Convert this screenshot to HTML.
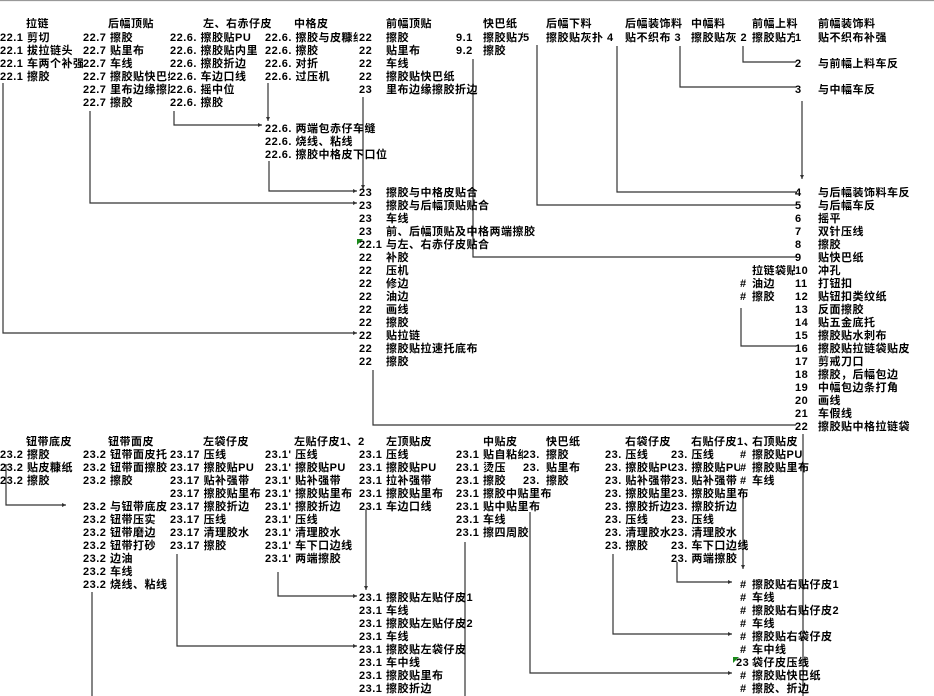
<!DOCTYPE html>
<html><head><meta charset="utf-8">
<style>
body{margin:0;width:934px;height:696px;background:#fff;position:relative;overflow:hidden}
.t{position:absolute;font:bold 11px "Liberation Sans","Noto Sans CJK SC",sans-serif;line-height:13px;white-space:nowrap;color:#000;letter-spacing:0.5px;overflow:hidden}
svg{position:absolute;left:0;top:0}
</style></head><body>
<svg width="934" height="696">
<defs><marker id="a" markerWidth="5" markerHeight="5" refX="4" refY="2.5" orient="auto" markerUnits="userSpaceOnUse"><path d="M0,0.5 L4,2.5 L0,4.5z" fill="#333"/></marker></defs>
<g stroke="#333" stroke-width="1.2" fill="none">
<line x1="0" y1="0.5" x2="934" y2="0.5" stroke="#999"/>
<polyline points="3,83 3,333 357,333" marker-end="url(#a)"/>
<polyline points="90,111 90,203 357,203" marker-end="url(#a)"/>
<polyline points="174,111 174,125 262,125" marker-end="url(#a)"/>
<line x1="268" y1="83" x2="268" y2="121" marker-end="url(#a)"/>
<polyline points="269,161 269,191 357,191" marker-end="url(#a)"/>
<line x1="363" y1="97" x2="363" y2="189" marker-end="url(#a)"/>
<polyline points="473,59 473,257 796,257"/>
<polyline points="537,45 537,205 796,205"/>
<polyline points="617,46 617,192 796,192"/>
<polyline points="680,46 680,87 796,87"/>
<polyline points="743,46 743,62 796,62"/>
<line x1="802" y1="101" x2="802" y2="179" marker-end="url(#a)"/>
<polyline points="741,308 741,346 796,346"/>
<polyline points="373,370 373,425 796,425"/>
<line x1="803" y1="434" x2="803" y2="696"/>
<polyline points="6,464 6,505 66,505" marker-end="url(#a)"/>
<line x1="92" y1="592" x2="92" y2="696"/>
<polyline points="177,554 177,646 357,646" marker-end="url(#a)"/>
<polyline points="278,572 278,596 357,596" marker-end="url(#a)"/>
<line x1="366" y1="509" x2="366" y2="590" marker-end="url(#a)"/>
<line x1="465" y1="542" x2="465" y2="696"/>
<polyline points="530,512 530,673 732,673" marker-end="url(#a)"/>
<polyline points="613,554 613,634 732,634" marker-end="url(#a)"/>
<polyline points="677,562 677,582 732,582" marker-end="url(#a)"/>
<line x1="743" y1="495" x2="743" y2="569" marker-end="url(#a)"/>
</g>
<polygon points="357,239 363,239 357,245" fill="#1a8a1a"/>
<polygon points="733,657 739,657 733,663" fill="#1a8a1a"/>
</svg>

<div class="t" style="left:26px;top:18px">拉链</div>
<div class="t" style="left:108px;top:18px">后幅顶贴</div>
<div class="t" style="left:203px;top:18px">左、右赤仔皮</div>
<div class="t" style="left:294px;top:18px">中格皮</div>
<div class="t" style="left:386px;top:18px">前幅顶贴</div>
<div class="t" style="left:483px;top:18px">快巴纸</div>
<div class="t" style="left:546px;top:18px">后幅下料</div>
<div class="t" style="left:625px;top:18px">后幅装饰料</div>
<div class="t" style="left:691px;top:18px">中幅料</div>
<div class="t" style="left:752px;top:18px">前幅上料</div>
<div class="t" style="left:818px;top:18px">前幅装饰料</div>

<div class="t" style="left:0;top:32px;width:83px">22.1 剪切<br>22.1 拔拉链头<br>22.1 车两个补强<br>22.1 擦胶</div>
<div class="t" style="left:83px;top:32px;width:87px">22.7 擦胶<br>22.7 贴里布<br>22.7 车线<br>22.7 擦胶贴快巴纸<br>22.7 里布边缘擦胶<br>22.7 擦胶</div>
<div class="t" style="left:170px;top:32px;width:95px">22.6. 擦胶贴PU<br>22.6. 擦胶贴内里<br>22.6. 擦胶折边<br>22.6. 车边口线<br>22.6. 摇中位<br>22.6. 擦胶</div>
<div class="t" style="left:265px;top:32px;width:93px">22.6. 擦胶与皮糠纸<br>22.6. 擦胶<br>22.6. 对折<br>22.6. 过压机</div>
<div class="t" style="left:265px;top:123px">22.6. 两端包赤仔车缝<br>22.6. 烧线、粘线<br>22.6. 擦胶中格皮下口位</div>
<div class="t" style="left:359px;top:32px">22<br>22<br>22<br>22<br>23</div>
<div class="t" style="left:386px;top:32px">擦胶<br>贴里布<br>车线<br>擦胶贴快巴纸<br>里布边缘擦胶折边</div>
<div class="t" style="left:456px;top:32px">9.1<br>9.2</div>
<div class="t" style="left:483px;top:32px;width:40px">擦胶贴方<br>擦胶</div>
<div class="t" style="left:523px;top:32px">5</div>
<div class="t" style="left:546px;top:32px">擦胶贴灰扑 4</div>
<div class="t" style="left:625px;top:32px">贴不织布 3</div>
<div class="t" style="left:691px;top:32px">擦胶贴灰 2</div>
<div class="t" style="left:752px;top:32px;width:43px">擦胶贴方</div>
<div class="t" style="left:795px;top:32px">1</div>
<div class="t" style="left:818px;top:32px">贴不织布补强</div>
<div class="t" style="left:795px;top:58px">2</div><div class="t" style="left:818px;top:58px">与前幅上料车反</div>
<div class="t" style="left:795px;top:84px">3</div><div class="t" style="left:818px;top:84px">与中幅车反</div>

<div class="t" style="left:359px;top:187px">23<br>23<br>23<br>23<br>22.1<br>22<br>22<br>22<br>22<br>22<br>22<br>22<br>22<br>22</div>
<div class="t" style="left:386px;top:187px">擦胶与中格皮贴合<br>擦胶与后幅顶贴贴合<br>车线<br>前、后幅顶贴及中格两端擦胶<br>与左、右赤仔皮贴合<br>补胶<br>压机<br>修边<br>油边<br>画线<br>擦胶<br>贴拉链<br>擦胶贴拉速托底布<br>擦胶</div>

<div class="t" style="left:795px;top:187px">4<br>5<br>6<br>7<br>8<br>9<br>10<br>11<br>12<br>13<br>14<br>15<br>16<br>17<br>18<br>19<br>20<br>21<br>22</div>
<div class="t" style="left:818px;top:187px">与后幅装饰料车反<br>与后幅车反<br>摇平<br>双针压线<br>擦胶<br>贴快巴纸<br>冲孔<br>打钮扣<br>贴钮扣类纹纸<br>反面擦胶<br>贴五金底托<br>擦胶贴水刺布<br>擦胶贴拉链袋贴皮<br>剪戒刀口<br>擦胶，后幅包边<br>中幅包边条打角<br>画线<br>车假线<br>擦胶贴中格拉链袋</div>
<div class="t" style="left:752px;top:265px;width:43px">拉链袋贴</div>
<div class="t" style="left:740px;top:278px">#<br>#</div>
<div class="t" style="left:752px;top:278px">油边<br>擦胶</div>

<div class="t" style="left:26px;top:436px">钮带底皮</div>
<div class="t" style="left:108px;top:436px">钮带面皮</div>
<div class="t" style="left:203px;top:436px">左袋仔皮</div>
<div class="t" style="left:294px;top:436px">左贴仔皮1、2</div>
<div class="t" style="left:386px;top:436px">左顶贴皮</div>
<div class="t" style="left:483px;top:436px">中贴皮</div>
<div class="t" style="left:546px;top:436px">快巴纸</div>
<div class="t" style="left:625px;top:436px">右袋仔皮</div>
<div class="t" style="left:691px;top:436px">右贴仔皮1、</div>
<div class="t" style="left:752px;top:436px">右顶贴皮</div>

<div class="t" style="left:0;top:449px;width:83px">23.2 擦胶<br>23.2 贴皮糠纸<br>23.2 擦胶</div>
<div class="t" style="left:83px;top:449px;width:87px">23.2 钮带面皮托<br>23.2 钮带面擦胶<br>23.2 擦胶<br><br>23.2 与钮带底皮<br>23.2 钮带压实<br>23.2 钮带磨边<br>23.2 钮带打砂<br>23.2 边油<br>23.2 车线<br>23.2 烧线、粘线</div>
<div class="t" style="left:170px;top:449px;width:95px">23.17 压线<br>23.17 擦胶贴PU<br>23.17 贴补强带<br>23.17 擦胶贴里布<br>23.17 擦胶折边<br>23.17 压线<br>23.17 清理胶水<br>23.17 擦胶</div>
<div class="t" style="left:265px;top:449px;width:94px">23.1' 压线<br>23.1' 擦胶贴PU<br>23.1' 贴补强带<br>23.1' 擦胶贴里布<br>23.1' 擦胶折边<br>23.1' 压线<br>23.1' 清理胶水<br>23.1' 车下口边线<br>23.1' 两端擦胶</div>
<div class="t" style="left:359px;top:449px">23.1 压线<br>23.1 擦胶贴PU<br>23.1 拉补强带<br>23.1 擦胶贴里布<br>23.1 车边口线</div>
<div class="t" style="left:359px;top:592px">23.1 擦胶贴左贴仔皮1<br>23.1 车线<br>23.1 擦胶贴左贴仔皮2<br>23.1 车线<br>23.1 擦胶贴左袋仔皮<br>23.1 车中线<br>23.1 擦胶贴里布<br>23.1 擦胶折边</div>
<div class="t" style="left:456px;top:449px;width:67px">23.1 贴自粘纸<br>23.1 烫压<br>23.1 擦胶</div>
<div class="t" style="left:456px;top:488px">23.1 擦胶中贴里布<br>23.1 贴中贴里布<br>23.1 车线<br>23.1 擦四周胶</div>
<div class="t" style="left:523px;top:449px">23.<br>23.<br>23.</div>
<div class="t" style="left:546px;top:449px">擦胶<br>贴里布<br>擦胶</div>
<div class="t" style="left:605px;top:449px;width:66px">23. 压线<br>23. 擦胶贴PU<br>23. 贴补强带<br>23. 擦胶贴里<br>23. 擦胶折边<br>23. 压线<br>23. 清理胶水<br>23. 擦胶</div>
<div class="t" style="left:671px;top:449px;width:69px">23. 压线<br>23. 擦胶贴PU<br>23. 贴补强带</div>
<div class="t" style="left:671px;top:488px">23. 擦胶贴里布<br>23. 擦胶折边<br>23. 压线<br>23. 清理胶水<br>23. 车下口边线<br>23. 两端擦胶</div>
<div class="t" style="left:740px;top:449px">#<br>#<br>#</div>
<div class="t" style="left:752px;top:449px">擦胶贴PU<br>擦胶贴里布<br>车线</div>
<div class="t" style="left:740px;top:579px">#<br>#<br>#<br>#<br>#<br>#<br><br>#<br>#</div>
<div class="t" style="left:736px;top:657px">23</div>
<div class="t" style="left:752px;top:579px">擦胶贴右贴仔皮1<br>车线<br>擦胶贴右贴仔皮2<br>车线<br>擦胶贴右袋仔皮<br>车中线<br>袋仔皮压线<br>擦胶贴快巴纸<br>擦胶、折边</div>
</body></html>
